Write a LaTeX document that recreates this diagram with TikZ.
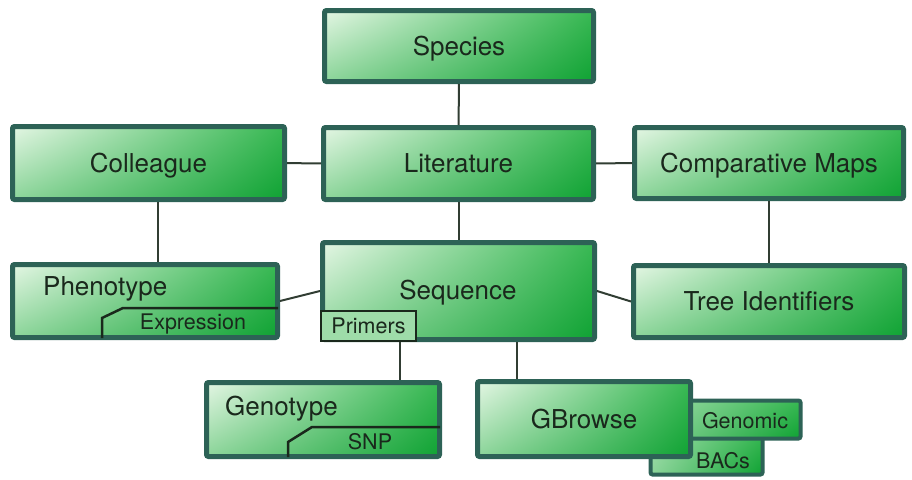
\documentclass[tikz,border=0pt]{standalone}
\usepackage{fontspec}
\setmainfont{TeX Gyre Heros}
\usetikzlibrary{calc,shadings}
\definecolor{boxline}{HTML}{2D6256}
\definecolor{gtl}{HTML}{E4F6E4}
\definecolor{gtr}{HTML}{38B853}
\definecolor{gbl}{HTML}{8CD59A}
\definecolor{gbr}{HTML}{0FA233}
\definecolor{ink}{HTML}{1A281C}
\tikzset{
  box/.style={draw=boxline, line width=5pt, rounded corners=2pt, inner sep=0pt,
    shade, upper left=gtl, upper right=gtr, lower left=gbl, lower right=gbr,
    text=ink, text height=18.5pt, text depth=0pt, font=\fontsize{26}{30}\selectfont},
  subbox/.style={box, line width=4pt, upper left=gbl!70!gtl, lower left=gbl,
    font=\fontsize{21.5}{25}\selectfont},
  tabbox/.style={draw=ink, line width=2.5pt, inner sep=0pt, fill=gbl!80!gtl,
    text=ink, font=\fontsize{21.5}{25}\selectfont},
  tabline/.style={draw=ink, line width=2.5pt},
  tabtext/.style={text=ink, inner sep=0pt, font=\fontsize{21.5}{25}\selectfont},
  boxtext/.style={text=ink, inner sep=0pt, anchor=west, font=\fontsize{26}{30}\selectfont},
  link/.style={draw=ink!90, line width=2pt}
}
\begin{document}
\begin{tikzpicture}[x=1pt, y=-1pt]
  \useasboundingbox (0,0) rectangle (912,479);
  \coordinate (cpjoin) at (158,0);
  \coordinate (gtjoin) at (400,0);
  \coordinate (gbjoin) at (517,0);
  \path
    (459,46) coordinate (c-species)
    (458.5,163.5) coordinate (c-lit)
    (148.5,163) coordinate (c-coll)
    (769,163) coordinate (c-comp)
    (145,301) coordinate (c-pheno)
    (458.5,291) coordinate (c-seq)
    (769,301.5) coordinate (c-tree)
    (323,419.5) coordinate (c-geno)
    (584,419) coordinate (c-gb);
  \node[box, minimum width=269pt, minimum height=71pt] (species) at (c-species) {Species};
  \node[box, minimum width=270pt, minimum height=72pt] (lit) at (c-lit) {Literature};
  \node[box, minimum width=272pt, minimum height=73pt] (coll) at (c-coll) {Colleague};
  \node[box, minimum width=269pt, minimum height=71pt] (comp) at (c-comp) {Comparative Maps};
  \node[box, minimum width=265pt, minimum height=73pt] (pheno) at (c-pheno) {};
  \node[box, minimum width=272pt, minimum height=97pt] (seq) at (c-seq) {};
  \node[box, minimum width=271pt, minimum height=72pt] (tree) at (c-tree) {Tree Identifiers};
  \node[box, minimum width=233pt, minimum height=74pt] (geno) at (c-geno) {};
  \node[subbox, minimum width=112pt, minimum height=42pt] (bacs) at (706.5,453.5) {};
  \node[subbox, minimum width=158pt, minimum height=38pt] (genomic) at (721.5,419.5) {};
  \node[box, minimum width=213pt, minimum height=75pt] (gbrowse) at (c-gb) {GBrowse};
  \node[tabbox, minimum width=95pt, minimum height=30pt] (primers) at (368.5,326) {Primers};

  \node[boxtext] (phenotxt) at (43,289) {Phenotype};
  \node[boxtext, anchor=center] (seqtxt) at (458,293) {Sequence};
  \node[boxtext] (genotxt) at (225,409) {Genotype};
  \node[tabtext] (exprtxt) at (193,324) {Expression};
  \node[tabtext] (snptxt) at (370,442) {SNP};
  \node[tabtext] (genomictxt) at (745,421) {Genomic};
  \node[tabtext] (bacstxt) at (723,461) {BACs};

  \draw[tabline] (102,338) -- (102,318) -- (123,308) -- (278,308);
  \draw[tabline] (288,457) -- (288,442) -- (312,427) -- (440,427);

  \begin{scope}[link]
    \draw (species) -- (lit);
    \draw (coll) -- (lit);
    \draw (lit) -- (comp);
    \draw (lit) -- (seq);
    \draw (coll.south -| cpjoin) -- (pheno.north -| cpjoin);
    \draw (comp) -- (tree);
    \draw (pheno.east) -- (seq.west);
    \draw (seq.east) -- (tree.west);
    \draw (primers.south -| gtjoin) -- (geno.north -| gtjoin);
    \draw (seq.south -| gbjoin) -- (gbrowse.north -| gbjoin);
  \end{scope}
\end{tikzpicture}
\end{document}
